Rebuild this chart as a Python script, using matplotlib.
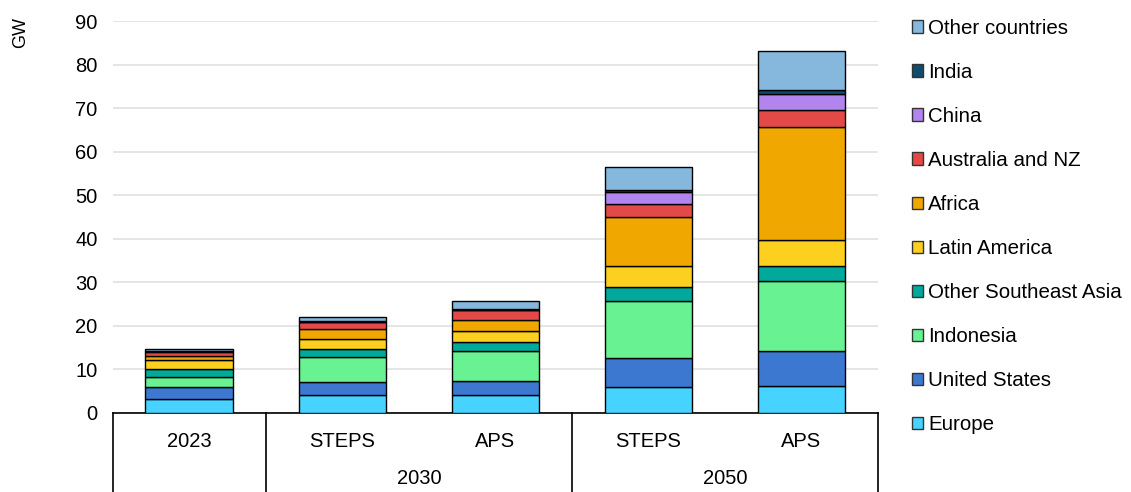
import matplotlib.pyplot as plt
from matplotlib.patches import Patch

plt.rcParams['font.family'] = ['Liberation Sans', 'DejaVu Sans']

scenarios = ['2023', 'STEPS', 'APS', 'STEPS', 'APS']
groups = ['', '2030', '2050']
regions = ['Europe', 'United States', 'Indonesia', 'Other Southeast Asia',
           'Latin America', 'Africa', 'Australia and NZ', 'China', 'India',
           'Other countries']
colors = ['#47D3FF', '#3C78D0', '#69F291', '#00A99A', '#FDCF1E',
          '#F0A800', '#E34A47', '#B284EE', '#104C6E', '#86B8DE']

europe = [3.2, 4.1, 4.2, 5.9, 6.3]
united_states = [2.7, 3.0, 3.05, 6.8, 7.9]
indonesia = [2.4, 5.7, 6.95, 13.1, 16.1]
other_sea = [1.9, 2.0, 2.2, 3.2, 3.5]
latin_america = [1.9, 2.2, 2.5, 4.65, 6.0]
africa = [1.0, 2.3, 2.5, 11.35, 25.9]
australia_nz = [1.0, 1.6, 2.15, 3.05, 3.9]
china = [0.1, 0.1, 0.1, 2.75, 3.7]
india = [0.1, 0.1, 0.15, 0.4, 0.9]
other_countries = [0.5, 0.9, 2.0, 5.2, 9.0]

series = [europe, united_states, indonesia, other_sea, latin_america,
          africa, australia_nz, china, india, other_countries]

fig = plt.figure(figsize=(11.31, 4.92), dpi=100)
ax = fig.add_axes([0.0999, 0.1606, 0.6764, 0.7967])

x = list(range(len(scenarios)))
bottom = [0.0] * len(scenarios)
for vals, col in zip(series, colors):
    ax.bar(x, vals, width=0.575, bottom=bottom, color=col,
           edgecolor='black', linewidth=1.0, zorder=3)
    bottom = [b + v for b, v in zip(bottom, vals)]

ax.set_xlim(-0.5, 4.5)
ax.set_ylim(0, 90)
ax.set_yticks(range(0, 91, 10))
ax.tick_params(axis='y', length=0, labelsize=14.5, pad=11)
ax.tick_params(axis='x', length=0, labelbottom=False)
ax.grid(axis='y', color='#E0E0E0', linewidth=1.2, zorder=0)
for s in ['left', 'right', 'top']:
    ax.spines[s].set_visible(False)
ax.spines['bottom'].set_color('black')
ax.spines['bottom'].set_linewidth(1.2)
ax.text(-0.121, 0.97, 'GW', transform=ax.transAxes, rotation=90,
        fontsize=13, ha='center', va='center')

# category box below the axis
tr = ax.get_xaxis_transform()
ybot = -0.2015
for xb in [-0.5, 0.5, 2.5, 4.5]:
    ax.plot([xb, xb], [0, ybot], color='black', lw=1.2, transform=tr,
            clip_on=False)
for xi, lab in zip(x, scenarios):
    ax.text(xi, -0.072, lab, transform=tr, ha='center', va='center',
            fontsize=14.5)
ax.text(1.5, -0.168, groups[1], transform=tr, ha='center', va='center',
        fontsize=14.5)
ax.text(3.5, -0.168, groups[2], transform=tr, ha='center', va='center',
        fontsize=14.5)

handles = [Patch(facecolor=c, edgecolor='#333333', linewidth=1.0)
           for c in colors]
leg = fig.legend(handles[::-1], regions[::-1], loc='upper left',
                 bbox_to_anchor=(0.806, 0.962), frameon=False, fontsize=14.8,
                 handlelength=0.55, handleheight=0.55, handletextpad=0.25,
                 labelspacing=1.22, borderaxespad=0, borderpad=0)

fig.savefig('out.png', dpi=100)
